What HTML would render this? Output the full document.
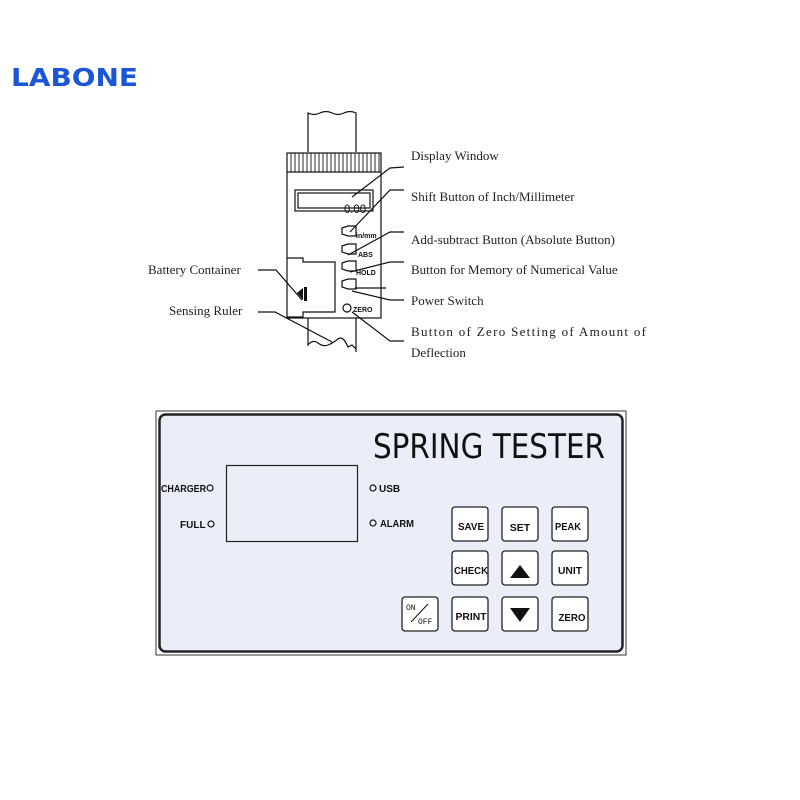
<!DOCTYPE html>
<html><head><meta charset="utf-8"><style>
html,body{margin:0;padding:0;background:#fff}
svg{display:block}
.s{font-family:"Liberation Serif",serif;font-size:13px;fill:#222}
.p{font-family:"DejaVu Sans","Liberation Sans",sans-serif;fill:#111}
.b{font-family:"Liberation Sans",sans-serif;font-weight:bold;fill:#111}
</style></head><body>
<svg width="800" height="800" viewBox="0 0 800 800" xmlns="http://www.w3.org/2000/svg">
<rect width="800" height="800" fill="#fff"/>
<text x="11" y="86" font-family="DejaVu Sans,sans-serif" font-weight="bold" font-size="25" fill="#1a56d6" textLength="127" lengthAdjust="spacingAndGlyphs">LABONE</text>

<g stroke="#111" fill="none" stroke-width="1.2">
<path d="M308 152 V113 q6 3 12 0 t12 0 t12 0 t12 0 V152"/>
<rect x="287" y="153" width="94" height="165" fill="#fff"/>
<line x1="287" y1="172" x2="381" y2="172"/>
<g stroke-width="0.9">
<path d="M291 153V172M295 153V172M299 153V172M303 153V172M307 153V172M311 153V172M315 153V172M319 153V172M323 153V172M327 153V172M331 153V172M335 153V172M339 153V172M343 153V172M347 153V172M351 153V172M355 153V172M359 153V172M363 153V172M367 153V172M371 153V172M375 153V172M379 153V172"/>
</g>
<rect x="295" y="190" width="78" height="21"/>
<rect x="298" y="193" width="72" height="15"/>
<path d="M308 318V345 q5 -6 10 -2 t10 2 t10 -6 t10 8 l4 -2 l4 4"/>
<path d="M356 318V352"/>
<path d="M287 258H303V262H335V312H303V317H287"/>
<path d="M342 228l6 -2h8v10h-8l-6 -2z"/>
<path d="M342 246l6 -2h8v10h-8l-6 -2z"/>
<path d="M342 263l6 -2h8v10h-8l-6 -2z"/>
<path d="M342 281l6 -2h8v10h-8l-6 -2z"/>
<circle cx="347" cy="308" r="4"/>
<path d="M404 167 L390 168 L352 197"/>
<path d="M404 190 H390 L350 232"/>
<path d="M404 232 H390 L348 255"/>
<path d="M404 262 H390 L350 272"/>
<path d="M355 288 H386"/>
<path d="M404 300 H390 L352 291"/>
<path d="M404 341 H390 L352 312"/>
<path d="M258 270 H276 L302 300"/>
<path d="M258 312 H275 L332 342"/>
</g>
<text x="344" y="213" font-family="Liberation Sans,sans-serif" font-size="12" fill="#111" textLength="22" lengthAdjust="spacingAndGlyphs">0.00</text>
<g font-family="Liberation Sans,sans-serif" font-weight="bold" font-size="7" fill="#111">
<text x="356" y="238">in/mm</text><text x="358" y="257">ABS</text><text x="356" y="275">HOLD</text><text x="353" y="312">ZERO</text>
</g>
<path d="M297 293l6 -5v12z M304 287h3v14h-3z" fill="#111"/>
<g class="s">
<text x="411" y="160">Display Window</text>
<text x="411" y="201">Shift Button of Inch/Millimeter</text>
<text x="411" y="244">Add-subtract Button (Absolute Button)</text>
<text x="411" y="274">Button for Memory of Numerical Value</text>
<text x="411" y="305">Power Switch</text>
<text x="411" y="336" textLength="235">Button of Zero Setting of Amount of</text>
<text x="411" y="357">Deflection</text>
<text x="148" y="274">Battery Container</text>
<text x="169" y="315">Sensing Ruler</text>
</g>

<rect x="156" y="411" width="470" height="244" fill="#fff" stroke="#333" stroke-width="1"/>
<rect x="159.5" y="414.5" width="463" height="237" rx="6" fill="#eaeef8" stroke="#222" stroke-width="2.5"/>
<text class="p" x="373" y="458" font-size="34" textLength="232" lengthAdjust="spacingAndGlyphs">SPRING TESTER</text>
<rect x="226.5" y="465.5" width="131" height="76" fill="none" stroke="#222" stroke-width="1.2"/>
<g class="b" font-size="10">
<text x="161" y="492" textLength="45" lengthAdjust="spacingAndGlyphs">CHARGER</text>
<text x="180" y="528">FULL</text>
<text x="379" y="492">USB</text>
<text x="380" y="527" textLength="34" lengthAdjust="spacingAndGlyphs">ALARM</text>
</g>
<g fill="none" stroke="#111" stroke-width="1.2">
<circle cx="210" cy="488" r="3"/><circle cx="211" cy="524" r="3"/>
<circle cx="373" cy="488" r="3"/><circle cx="373" cy="523" r="3"/>
</g>
<g fill="#fff" stroke="#222" stroke-width="1.3">
<rect x="452" y="507" width="36" height="34" rx="3"/>
<rect x="502" y="507" width="36" height="34" rx="3"/>
<rect x="552" y="507" width="36" height="34" rx="3"/>
<rect x="452" y="551" width="36" height="34" rx="3"/>
<rect x="502" y="551" width="36" height="34" rx="3"/>
<rect x="552" y="551" width="36" height="34" rx="3"/>
<rect x="452" y="597" width="36" height="34" rx="3"/>
<rect x="502" y="597" width="36" height="34" rx="3"/>
<rect x="552" y="597" width="36" height="34" rx="3"/>
<rect x="402" y="597" width="36" height="34" rx="3"/>
</g>
<g class="b" font-size="10.5" text-anchor="middle">
<text x="471" y="530" textLength="26" lengthAdjust="spacingAndGlyphs">SAVE</text><text x="520" y="531">SET</text><text x="568" y="530" textLength="26" lengthAdjust="spacingAndGlyphs">PEAK</text>
<text x="471" y="574" textLength="34" lengthAdjust="spacingAndGlyphs">CHECK</text><text x="570" y="574" textLength="24" lengthAdjust="spacingAndGlyphs">UNIT</text>
<text x="471" y="620" textLength="31" lengthAdjust="spacingAndGlyphs">PRINT</text><text x="572" y="621" textLength="27" lengthAdjust="spacingAndGlyphs">ZERO</text>
</g>
<path d="M510 578 L520 565 L530 578Z M510 608 L530 608 L520 622Z" fill="#111"/>
<g font-family="Liberation Mono,monospace" font-size="8" fill="#111">
<text x="406" y="610">ON</text><text x="418" y="624">OFF</text>
</g>
<line x1="411" y1="622" x2="428" y2="604" stroke="#111"/>
</svg>
</body></html>
